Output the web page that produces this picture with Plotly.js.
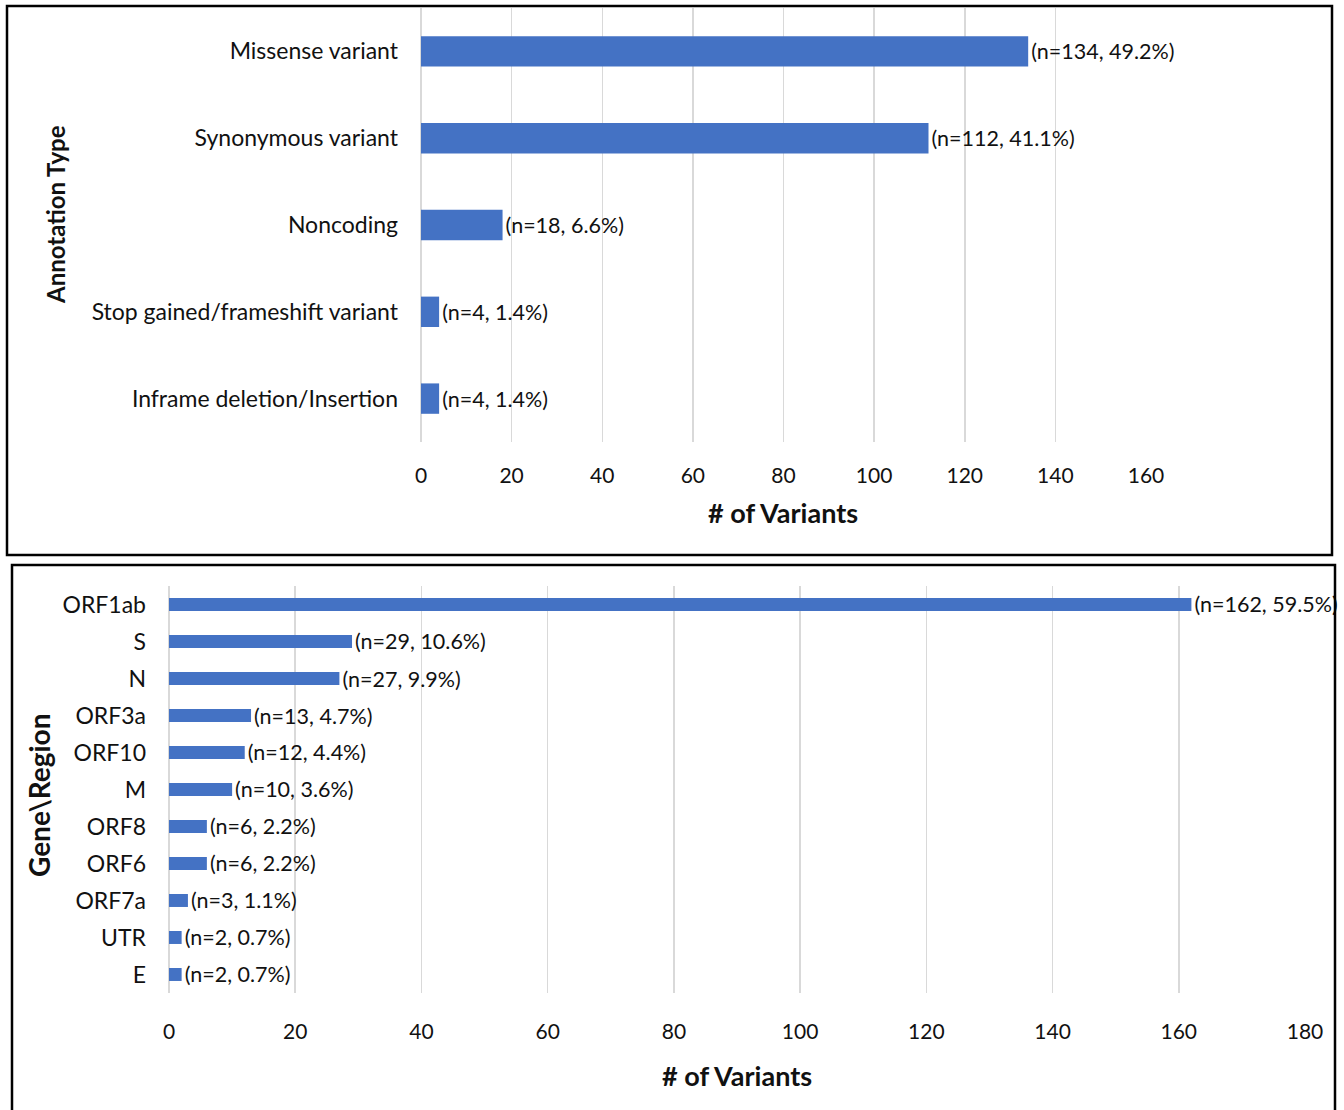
<!DOCTYPE html>
<html>
<head>
<meta charset="utf-8">
<script src="https://cdn.plot.ly/plotly-3.0.1.min.js"></script>
<style>
  html, body { margin: 0; padding: 0; background: #fff; }
  #chart { width: 1344px; height: 1110px; }
</style>
</head>
<body>
<div id="chart"></div>
<script>
// ---- Data ----
const annotationTypes = ["Missense variant", "Synonymous variant", "Noncoding", "Stop gained/frameshift variant", "Inframe deletion/Insertion"];
const annotationCounts = [134, 112, 18, 4, 4];
const annotationLabels = ["(n=134, 49.2%)", "(n=112, 41.1%)", "(n=18, 6.6%)", "(n=4, 1.4%)", "(n=4, 1.4%)"];

const geneRegions = ["ORF1ab", "S", "N", "ORF3a", "ORF10", "M", "ORF8", "ORF6", "ORF7a", "UTR", "E"];
const geneCounts = [162, 29, 27, 13, 12, 10, 6, 6, 3, 2, 2];
const geneLabels = ["(n=162, 59.5%)", "(n=29, 10.6%)", "(n=27, 9.9%)", "(n=13, 4.7%)", "(n=12, 4.4%)", "(n=10, 3.6%)", "(n=6, 2.2%)", "(n=6, 2.2%)", "(n=3, 1.1%)", "(n=2, 0.7%)", "(n=2, 0.7%)"];

const topTicks = [0, 20, 40, 60, 80, 100, 120, 140, 160];
const bottomTicks = [0, 20, 40, 60, 80, 100, 120, 140, 160, 180];

// ---- Layout helpers (pixel -> paper) ----
const W = 1344, H = 1110;
const px = v => v / W;
const py = v => 1 - v / H;

const FONT = "Lato, 'Open Sans', sans-serif";
const BAR = "#4472C4";
const GRID = "#d9d9d9";
const TXT = "#111111";

const traces = [
  {
    type: "bar", orientation: "h",
    y: annotationTypes, x: annotationCounts,
    text: annotationLabels, textposition: "outside",
    textfont: { family: FONT, size: 21.5, color: TXT },
    constraintext: "none", cliponaxis: false,
    marker: { color: BAR },
    xaxis: "x", yaxis: "y", hoverinfo: "x+y", showlegend: false
  },
  {
    type: "bar", orientation: "h",
    y: geneRegions, x: geneCounts,
    text: geneLabels, textposition: "outside",
    textfont: { family: FONT, size: 21.5, color: TXT },
    constraintext: "none", cliponaxis: false,
    marker: { color: BAR },
    xaxis: "x2", yaxis: "y2", hoverinfo: "x+y", showlegend: false
  }
];

const axisCommon = {
  showline: false, zeroline: true, zerolinecolor: GRID, zerolinewidth: 1.5,
  showgrid: true, gridcolor: GRID, gridwidth: 1.5,
  tickfont: { family: FONT, size: 21, color: TXT }, ticks: ""
};

const layout = {
  width: W, height: H,
  margin: { l: 0, r: 0, t: 0, b: 0 },
  paper_bgcolor: "#fff", plot_bgcolor: "#fff",
  font: { family: FONT, color: TXT },
  barmode: "group",
  bargap: 0.65,
  xaxis: Object.assign({}, axisCommon, {
    domain: [px(421), px(1146)], anchor: "y",
    range: [0, 160], tickvals: topTicks, ticklabelstandoff: 19
  }),
  yaxis: {
    domain: [py(442), py(8)], anchor: "x",
    autorange: "reversed", showgrid: false, zeroline: false, showline: false,
    tickfont: { family: FONT, size: 23, color: TXT }, ticks: "", ticklabelstandoff: 22
  },
  xaxis2: Object.assign({}, axisCommon, {
    domain: [px(169), px(1305)], anchor: "y2",
    range: [0, 180], tickvals: bottomTicks, ticklabelstandoff: 24
  }),
  yaxis2: {
    domain: [py(993), py(586)], anchor: "x2",
    autorange: "reversed", showgrid: false, zeroline: false, showline: false,
    tickfont: { family: FONT, size: 23, color: TXT }, ticks: "", ticklabelstandoff: 22
  },
  annotations: [
    { text: "<b># of Variants</b>", xref: "paper", yref: "paper", x: px(783), y: py(513),
      showarrow: false, font: { family: FONT, size: 27, color: TXT }, xanchor: "center", yanchor: "middle" },
    { text: "<b>Annotation Type</b>", xref: "paper", yref: "paper", x: px(55), y: py(215),
      showarrow: false, textangle: -90, font: { family: FONT, size: 24, color: TXT }, xanchor: "center", yanchor: "middle" },
    { text: "<b># of Variants</b>", xref: "paper", yref: "paper", x: px(737), y: py(1075),
      showarrow: false, font: { family: FONT, size: 27, color: TXT }, xanchor: "center", yanchor: "middle" },
    { text: "<b>Gene\\Region</b>", xref: "paper", yref: "paper", x: px(39), y: py(795),
      showarrow: false, textangle: -90, font: { family: FONT, size: 28, color: TXT }, xanchor: "center", yanchor: "middle" }
  ],
  shapes: [
    { type: "rect", xref: "paper", yref: "paper", x0: px(7), x1: px(1332), y0: py(555), y1: py(6),
      line: { color: "#000", width: 2.5 }, layer: "above" },
    { type: "rect", xref: "paper", yref: "paper", x0: px(12), x1: px(1335), y0: py(1120), y1: py(565),
      line: { color: "#000", width: 2.5 }, layer: "above" }
  ]
};

Plotly.newPlot("chart", traces, layout, { staticPlot: true, displayModeBar: false });
</script>
</body>
</html>
